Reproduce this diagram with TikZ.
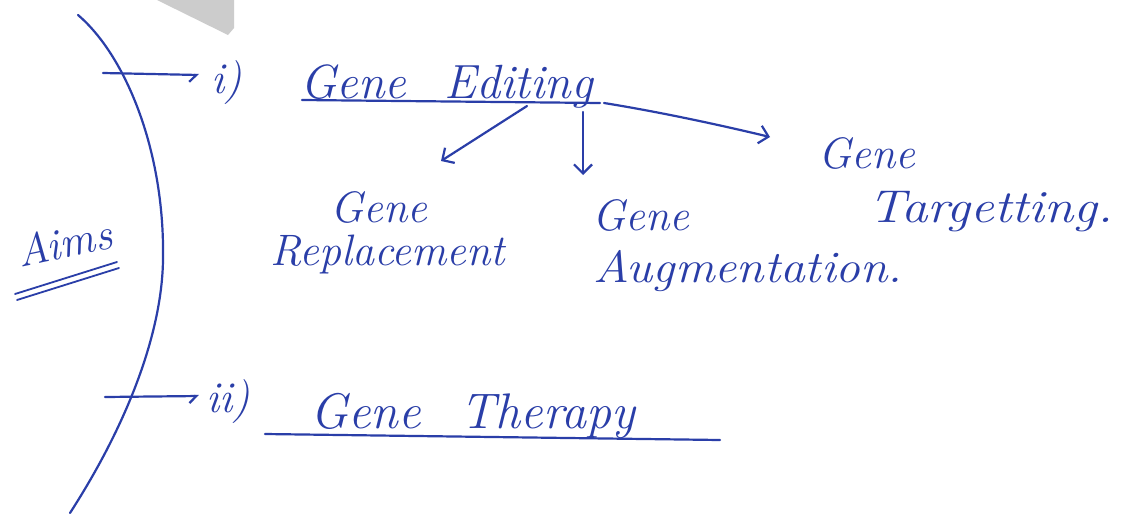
\documentclass[tikz,border=0pt]{standalone}
\usetikzlibrary{arrows.meta}
\definecolor{ink}{RGB}{42,62,168}
\definecolor{wedgegray}{RGB}{204,204,204}
\tikzset{
  pen/.style={draw=ink, line width=2.2pt, line cap=round, line join=round},
  word/.style={text=ink, inner sep=0pt, anchor=base west, font=\fontsize{#1}{#1}\selectfont\itshape},
  word/.default=44,
  wide/.style={transform shape, xscale=#1},
  barb/.style={-{Straight Barb[length=9pt, width=18pt, line width=2.2pt]}},
  hook/.style={-{Straight Barb[right, length=7pt, width=14pt, line width=2.2pt]}}
}
\begin{document}
\begin{tikzpicture}[x=1pt, y=-1pt]
  \useasboundingbox (0,0) rectangle (1142,517);
  \fill[white] (0,0) rectangle (1142,517);
  % grey wedge at the top edge
  \fill[wedgegray] (157,0) -- (234,0) -- (234,28) -- (228,35) -- cycle;

  % big bracket
  \draw[pen] (78,15) .. controls (125,55) and (165,150) .. (163,260)
                    .. controls (162,330) and (130,420) .. (70,513);

  % Aims with double underline
  \node[word=44, rotate=12] (aims) at (20,268) {Aims};
  \coordinate (u1a) at (15,294); \coordinate (u1b) at (117,262);
  \coordinate (u2a) at (17,300); \coordinate (u2b) at (119,268);
  \draw[pen, line width=1.8pt] (u1a) -- (u1b);
  \draw[pen, line width=1.8pt] (u2a) -- (u2b);

  % item markers
  \coordinate (s1) at (103,73);  \coordinate (e1) at (199,75);
  \coordinate (s2) at (105,397); \coordinate (e2) at (199,396);
  \draw[pen, hook] (s1) -- (e1);
  \draw[pen, hook] (s2) -- (e2);
  \node[word] (r1) at (211,93) {i)};
  \node[word] (r2) at (206,412) {ii)};

  % Gene Editing
  \node[word=48] (editing) at (300,98) {Gene\hspace{0.8em}Editing};
  \coordinate (ul1a) at (302,100); \coordinate (ul1b) at (600,103);
  \draw[pen] (ul1a) -- (ul1b);

  % branches
  \coordinate (b1) at (527,106);
  \coordinate (b2) at (583,112);
  \coordinate (b3) at (604,103);
  \node[word] (replGene) at (330,222) {Gene};
  \node[word] (repl) at (270,265) {Replacement};
  \node[word] (augGene) at (592,230) {Gene};
  \node[word=45, wide=1.1] (aug) at (593,282) {Augmentation.};
  \node[word] (targGene) at (818,168) {Gene};
  \node[word=46, wide=1.15] (targ) at (868,222) {Targetting.};
  \coordinate (t1) at (441,161);
  \coordinate (t2) at (583,175);
  \coordinate (t3) at (770,137);
  \draw[pen, barb] (b1) -- (t1);
  \draw[pen, barb] (b2) -- (t2);
  \draw[pen, barb] (b3) .. controls (660,112) and (720,125) .. (t3);

  % Gene Therapy
  \node[word=50] (therapy) at (310,428) {Gene\hspace{0.8em}Therapy};
  \coordinate (ul2a) at (265,434); \coordinate (ul2b) at (720,440);
  \draw[pen] (ul2a) -- (ul2b);
\end{tikzpicture}
\end{document}
